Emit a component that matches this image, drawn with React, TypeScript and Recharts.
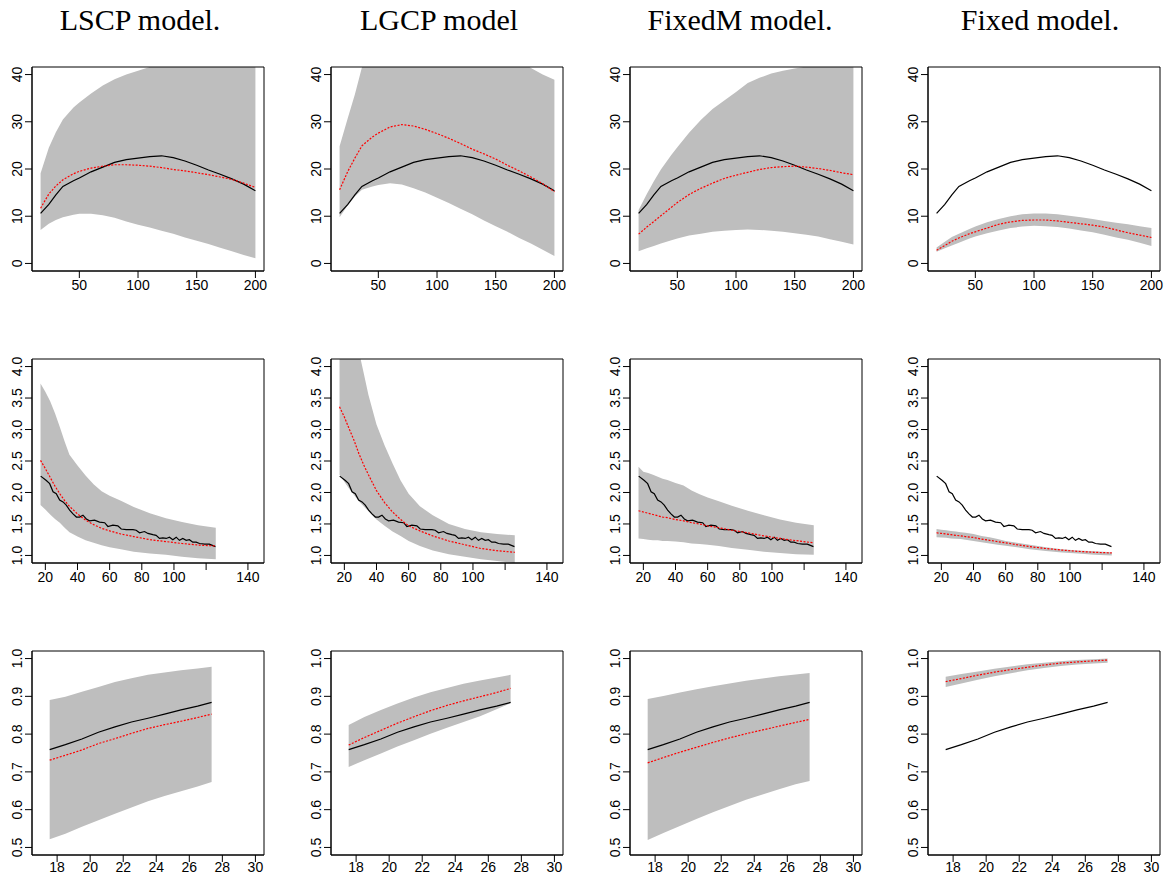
import React from "react";
import {
  ComposedChart,
  Area,
  Line,
  XAxis,
  YAxis,
  ReferenceArea,
} from "recharts";

// ---- column titles ----
const TITLES = ["LSCP model.", "LGCP model", "FixedM model.", "Fixed model."];

// ---- row 1 ----
const r1X = [17, 24, 30, 36, 45, 50, 60, 70, 80, 90, 100, 110, 120, 130, 140, 150, 160, 170, 180, 190, 200];
const r1Truth = [10.6, 12.5, 14.5, 16.3, 17.5, 18.1, 19.4, 20.4, 21.4, 22.0, 22.3, 22.6, 22.8, 22.4, 21.7, 20.8, 19.8, 18.9, 17.9, 16.8, 15.4];
const r1LscpHi = [19.1, 24.5, 27.8, 30.5, 33.0, 34.1, 36.0, 37.7, 39.0, 40.0, 40.8, 41.6, 42.3, 43, 43.5, 44, 44.5, 45, 45, 45, 45];
const r1LscpLo = [7.1, 8.4, 9.2, 9.8, 10.3, 10.5, 10.5, 10.2, 9.7, 8.9, 8.2, 7.6, 6.9, 6.3, 5.5, 4.8, 4.1, 3.3, 2.6, 1.8, 1.1];
const r1LscpEst = [11.7, 14.7, 16.4, 17.7, 19.0, 19.5, 20.2, 20.6, 20.9, 20.9, 20.8, 20.6, 20.3, 19.9, 19.6, 19.2, 18.8, 18.3, 17.8, 17.0, 16.1];
const r1LgcpHi = [24.8, 30.8, 35.8, 41.5, 46, 48, 50, 51, 52, 52, 52, 51, 50, 49, 48, 46.5, 45, 43, 41.4, 40.0, 38.9];
const r1LgcpLo = [9.8, 12.3, 14.2, 15.6, 16.3, 16.6, 17.0, 16.7, 15.9, 15.0, 13.9, 12.8, 11.6, 10.4, 9.1, 7.9, 6.7, 5.4, 4.2, 2.9, 1.6];
const r1LgcpEst = [15.6, 19.5, 22.3, 24.9, 26.8, 27.6, 28.9, 29.4, 29.1, 28.4, 27.5, 26.5, 25.4, 24.2, 23.2, 22.1, 20.8, 19.6, 18.3, 16.9, 15.2];
const r1FixedMHi = [11.3, 14.7, 17.4, 19.9, 23.0, 24.6, 27.7, 30.4, 32.7, 34.5, 36.3, 38.2, 39.3, 40.2, 40.8, 41.3, 41.7, 42, 42.5, 43, 43];
const r1FixedMLo = [2.6, 3.2, 3.7, 4.2, 4.9, 5.3, 5.9, 6.3, 6.7, 6.9, 7.1, 7.2, 7.1, 6.9, 6.7, 6.4, 6.1, 5.7, 5.1, 4.6, 4.0];
const r1FixedMEst = [6.2, 7.7, 8.9, 10.1, 11.9, 12.9, 14.6, 15.9, 17.0, 18.0, 18.7, 19.3, 19.9, 20.3, 20.5, 20.6, 20.4, 20.1, 19.7, 19.2, 18.8];
const r1FixedHi = [3.4, 4.6, 5.6, 6.3, 7.3, 7.8, 8.7, 9.4, 10.0, 10.4, 10.6, 10.6, 10.4, 10.1, 9.8, 9.4, 9.0, 8.6, 8.3, 7.9, 7.5];
const r1FixedLo = [2.5, 3.2, 3.8, 4.4, 5.3, 5.7, 6.4, 7.0, 7.5, 7.8, 8.0, 7.9, 7.7, 7.4, 7.0, 6.6, 6.1, 5.5, 5.0, 4.4, 3.7];
const r1FixedEst = [2.8, 3.8, 4.7, 5.4, 6.3, 6.7, 7.5, 8.3, 8.8, 9.1, 9.2, 9.2, 9.0, 8.7, 8.4, 8.1, 7.7, 7.1, 6.5, 6.0, 5.5];

// ---- row 2 ----
const r2X = [17, 20, 23, 26, 29, 32, 35, 40, 45, 50, 55, 60, 67, 75, 85, 95, 105, 115, 126];
const r2TruthX = [17.1, 20.6, 22.7, 24.8, 26.8, 28.9, 31, 33, 35.1, 37.2, 39.3, 41.3, 43.4, 45.5, 47.5, 50.6, 53.7, 56.9, 58.9, 62, 65.1, 67.2, 70.3, 74.5, 76.5, 78.6, 81.7, 83.8, 86.9, 88.9, 91, 93.1, 95.2, 97.2, 99.3, 101.4, 103.4, 105.5, 107.6, 109.6, 111.7, 113.8, 115.9, 119, 122, 125.8];
const r2Truth = [2.26, 2.19, 2.14, 2.01, 1.98, 1.88, 1.85, 1.80, 1.72, 1.66, 1.61, 1.61, 1.64, 1.58, 1.55, 1.56, 1.53, 1.52, 1.46, 1.48, 1.47, 1.42, 1.41, 1.41, 1.40, 1.36, 1.38, 1.35, 1.33, 1.32, 1.27, 1.28, 1.27, 1.29, 1.25, 1.29, 1.24, 1.27, 1.24, 1.25, 1.21, 1.21, 1.19, 1.18, 1.18, 1.14];
const r2LscpHi = [3.73, 3.60, 3.45, 3.26, 3.04, 2.81, 2.60, 2.43, 2.27, 2.13, 2.02, 1.95, 1.87, 1.77, 1.67, 1.59, 1.53, 1.48, 1.44];
const r2LscpLo = [1.80, 1.73, 1.65, 1.58, 1.52, 1.44, 1.37, 1.30, 1.24, 1.20, 1.16, 1.13, 1.10, 1.06, 1.03, 1.01, 0.98, 0.955, 0.94];
const r2LscpEst = [2.51, 2.38, 2.24, 2.10, 1.98, 1.87, 1.78, 1.66, 1.56, 1.49, 1.43, 1.39, 1.34, 1.30, 1.25, 1.22, 1.19, 1.165, 1.15];
const r2LgcpHi = [5.5, 5.1, 4.75, 4.45, 4.25, 3.90, 3.55, 3.08, 2.75, 2.46, 2.19, 1.98, 1.78, 1.64, 1.50, 1.42, 1.37, 1.34, 1.32];
const r2LgcpLo = [2.28, 2.17, 2.06, 1.96, 1.86, 1.78, 1.70, 1.57, 1.47, 1.38, 1.31, 1.23, 1.15, 1.08, 1.02, 0.98, 0.94, 0.91, 0.88];
const r2LgcpEst = [3.36, 3.20, 3.01, 2.83, 2.62, 2.44, 2.28, 2.03, 1.84, 1.69, 1.57, 1.47, 1.39, 1.31, 1.23, 1.17, 1.11, 1.075, 1.05];
const r2FixedMHi = [2.41, 2.33, 2.31, 2.28, 2.25, 2.22, 2.20, 2.15, 2.11, 2.03, 1.97, 1.92, 1.86, 1.79, 1.71, 1.64, 1.57, 1.52, 1.48];
const r2FixedMLo = [1.27, 1.26, 1.25, 1.24, 1.24, 1.23, 1.23, 1.22, 1.21, 1.19, 1.18, 1.17, 1.15, 1.12, 1.09, 1.06, 1.04, 1.02, 1.01];
const r2FixedMEst = [1.71, 1.69, 1.67, 1.65, 1.63, 1.61, 1.60, 1.57, 1.55, 1.52, 1.50, 1.47, 1.44, 1.40, 1.36, 1.31, 1.27, 1.235, 1.20];
const r2FixedHi = [1.42, 1.41, 1.40, 1.39, 1.38, 1.37, 1.36, 1.34, 1.31, 1.29, 1.26, 1.23, 1.20, 1.17, 1.13, 1.10, 1.08, 1.065, 1.05];
const r2FixedLo = [1.29, 1.285, 1.28, 1.27, 1.265, 1.26, 1.25, 1.23, 1.21, 1.19, 1.17, 1.155, 1.13, 1.10, 1.07, 1.045, 1.03, 1.01, 1.0];
const r2FixedEst = [1.36, 1.35, 1.34, 1.33, 1.32, 1.31, 1.30, 1.285, 1.26, 1.24, 1.22, 1.20, 1.17, 1.14, 1.11, 1.085, 1.065, 1.05, 1.04];

// ---- row 3 ----
const r3X = [17.55, 18.5, 19.5, 20.5, 21.5, 22.5, 23.5, 24.5, 25.5, 26.5, 27.35];
const r3Truth = [0.759, 0.772, 0.787, 0.805, 0.819, 0.832, 0.842, 0.853, 0.864, 0.874, 0.884];
const r3LscpHi = [0.890, 0.899, 0.912, 0.925, 0.938, 0.948, 0.957, 0.963, 0.969, 0.974, 0.978];
const r3LscpLo = [0.522, 0.536, 0.555, 0.572, 0.589, 0.606, 0.622, 0.636, 0.649, 0.661, 0.673];
const r3LscpEst = [0.731, 0.744, 0.758, 0.775, 0.788, 0.802, 0.815, 0.825, 0.834, 0.844, 0.853];
const r3LgcpHi = [0.824, 0.845, 0.864, 0.881, 0.897, 0.911, 0.922, 0.933, 0.942, 0.950, 0.957];
const r3LgcpLo = [0.713, 0.731, 0.749, 0.767, 0.784, 0.801, 0.817, 0.832, 0.847, 0.866, 0.882];
const r3LgcpEst = [0.771, 0.791, 0.810, 0.829, 0.846, 0.862, 0.876, 0.888, 0.899, 0.910, 0.921];
const r3FixedMHi = [0.893, 0.901, 0.910, 0.919, 0.927, 0.934, 0.941, 0.947, 0.953, 0.958, 0.962];
const r3FixedMLo = [0.520, 0.538, 0.557, 0.575, 0.593, 0.610, 0.626, 0.640, 0.654, 0.667, 0.676];
const r3FixedMEst = [0.724, 0.738, 0.752, 0.765, 0.778, 0.790, 0.801, 0.811, 0.821, 0.831, 0.839];
const r3FixedHi = [0.952, 0.959, 0.966, 0.973, 0.979, 0.985, 0.989, 0.993, 0.996, 0.998, 1.0];
const r3FixedLo = [0.925, 0.934, 0.944, 0.953, 0.961, 0.969, 0.975, 0.980, 0.984, 0.987, 0.989];
const r3FixedEst = [0.939, 0.947, 0.956, 0.964, 0.971, 0.977, 0.983, 0.988, 0.991, 0.994, 0.996];

// ---- axes ----
const r1XTicks = [50, 100, 150, 200];
const r1XLabels = ["50", "100", "150", "200"];
const r1YTicks = [0, 10, 20, 30, 40];
const r2XTicks = [20, 40, 60, 80, 100, 120, 146];
const r2XLabels = ["20", "40", "60", "80", "100", "", "140"];
const r2YTicks = [1.0, 1.5, 2.0, 2.5, 3.0, 3.5, 4.0];
const r3XTicks = [18, 20, 22, 24, 26, 28, 30];
const r3XLabels = ["18", "20", "22", "24", "26", "28", "30"];
const r3YTicks = [0.5, 0.6, 0.7, 0.8, 0.9, 1.0];

const SANS = '"Liberation Sans", Arial, Helvetica, sans-serif';
const SERIF = '"Liberation Serif", "DejaVu Serif", serif';

const PLOT_W = 232;
const PLOT_H = 204;
const Y_W = 32;
const PAD = 4;
const X_H = 22;

const COL_LEFT = [32, 331, 630, 928];
const ROW_TOP = [67, 359, 651];
const TITLE_CENTER = [140, 439, 740, 1040];

const zip = (xs: number[], ys: number[]) => xs.map((x, i) => ({ x, y: ys[i] }));
const band = (xs: number[], lo: number[], hi: number[]) =>
  xs.map((x, i) => ({ x, band: [lo[i], hi[i]] }));

interface RowCfg {
  xDomain: [number, number];
  yDomain: [number, number];
  xTicks: number[];
  xLabels: string[];
  yTicks: number[];
  yFmt: (v: number) => string;
  labelGap: number;
}

const ROWS: RowCfg[] = [
  { xDomain: [9.68, 207.32], yDomain: [-1.6, 41.6], xTicks: r1XTicks, xLabels: r1XLabels, yTicks: r1YTicks, yFmt: (v) => String(v), labelGap: 2 },
  { xDomain: [11.7, 156], yDomain: [0.88, 4.12], xTicks: r2XTicks, xLabels: r2XLabels, yTicks: r2YTicks, yFmt: (v) => v.toFixed(1), labelGap: 2 },
  { xDomain: [16.48, 30.52], yDomain: [0.48, 1.02], xTicks: r3XTicks, xLabels: r3XLabels, yTicks: r3YTicks, yFmt: (v) => v.toFixed(1), labelGap: 0 },
];

interface PanelData {
  band: { x: number; band: number[] }[];
  est: { x: number; y: number }[];
  truth: { x: number; y: number }[];
}

const r1TruthData = zip(r1X, r1Truth);
const r2TruthData = zip(r2TruthX, r2Truth);
const r3TruthData = zip(r3X, r3Truth);

const PANELS: PanelData[][] = [
  [
    { band: band(r1X, r1LscpLo, r1LscpHi), est: zip(r1X, r1LscpEst), truth: r1TruthData },
    { band: band(r1X, r1LgcpLo, r1LgcpHi), est: zip(r1X, r1LgcpEst), truth: r1TruthData },
    { band: band(r1X, r1FixedMLo, r1FixedMHi), est: zip(r1X, r1FixedMEst), truth: r1TruthData },
    { band: band(r1X, r1FixedLo, r1FixedHi), est: zip(r1X, r1FixedEst), truth: r1TruthData },
  ],
  [
    { band: band(r2X, r2LscpLo, r2LscpHi), est: zip(r2X, r2LscpEst), truth: r2TruthData },
    { band: band(r2X, r2LgcpLo, r2LgcpHi), est: zip(r2X, r2LgcpEst), truth: r2TruthData },
    { band: band(r2X, r2FixedMLo, r2FixedMHi), est: zip(r2X, r2FixedMEst), truth: r2TruthData },
    { band: band(r2X, r2FixedLo, r2FixedHi), est: zip(r2X, r2FixedEst), truth: r2TruthData },
  ],
  [
    { band: band(r3X, r3LscpLo, r3LscpHi), est: zip(r3X, r3LscpEst), truth: r3TruthData },
    { band: band(r3X, r3LgcpLo, r3LgcpHi), est: zip(r3X, r3LgcpEst), truth: r3TruthData },
    { band: band(r3X, r3FixedMLo, r3FixedMHi), est: zip(r3X, r3FixedMEst), truth: r3TruthData },
    { band: band(r3X, r3FixedLo, r3FixedHi), est: zip(r3X, r3FixedEst), truth: r3TruthData },
  ],
];

// rotated y tick label, like R's default las=0
const YTick = (props: any) => {
  const { x, y, payload, fmt } = props;
  return (
    <text
      x={x}
      y={y}
      transform={`rotate(-90 ${x} ${y})`}
      textAnchor="middle"
      fontSize={14}
      fontFamily={SANS}
      fill="#000"
    >
      {fmt(payload.value)}
    </text>
  );
};

function Panel({ row, col }: { row: number; col: number }) {
  const cfg = ROWS[row];
  const d = PANELS[row][col];
  const labelOf = (v: number) => {
    const i = cfg.xTicks.indexOf(v);
    return i >= 0 ? cfg.xLabels[i] : "";
  };
  return (
    <div
      style={{
        position: "absolute",
        left: COL_LEFT[col] - Y_W,
        top: ROW_TOP[row] - PAD,
      }}
    >
      <ComposedChart
        width={Y_W + PLOT_W + PAD}
        height={PAD + PLOT_H + X_H}
        margin={{ top: PAD, right: PAD, left: 0, bottom: 0 }}
      >
        <XAxis
          type="number"
          dataKey="x"
          domain={cfg.xDomain}
          allowDataOverflow
          ticks={cfg.xTicks}
          interval={0}
          tickFormatter={labelOf}
          height={X_H}
          tickSize={7}
          tickMargin={cfg.labelGap}
          axisLine={{ stroke: "#000" }}
          tickLine={{ stroke: "#000" }}
          tick={{ fill: "#000", fontSize: 14, fontFamily: SANS }}
        />
        <YAxis
          type="number"
          domain={cfg.yDomain}
          allowDataOverflow
          ticks={cfg.yTicks}
          interval={0}
          width={Y_W}
          tickSize={7}
          tickMargin={3}
          axisLine={{ stroke: "#000" }}
          tickLine={{ stroke: "#000" }}
          tick={<YTick fmt={cfg.yFmt} />}
        />
        <Area
          data={d.band}
          dataKey="band"
          type="linear"
          fill="#BEBEBE"
          fillOpacity={1}
          stroke="none"
          isAnimationActive={false}
        />
        <Line
          data={d.truth}
          dataKey="y"
          type="linear"
          stroke="#000"
          strokeWidth={1.2}
          dot={false}
          isAnimationActive={false}
        />
        <Line
          data={d.est}
          dataKey="y"
          type="linear"
          stroke="#FF0000"
          strokeWidth={1.2}
          strokeDasharray="2 1.5"
          dot={false}
          isAnimationActive={false}
        />
        <ReferenceArea
          x1={cfg.xDomain[0]}
          x2={cfg.xDomain[1]}
          y1={cfg.yDomain[0]}
          y2={cfg.yDomain[1]}
          fill="none"
          stroke="#000"
          strokeWidth={1}
          ifOverflow="visible"
        />
      </ComposedChart>
    </div>
  );
}

export default function App() {
  return (
    <div
      style={{
        position: "absolute",
        left: 0,
        top: 0,
        width: 1169,
        height: 875,
        background: "#fff",
        overflow: "hidden",
      }}
    >
      {TITLES.map((t, i) => (
        <div
          key={t}
          style={{
            position: "absolute",
            left: TITLE_CENTER[i] - 150,
            width: 300,
            top: 5,
            textAlign: "center",
            fontFamily: SERIF,
            fontSize: 30,
            lineHeight: "30px",
            color: "#000",
          }}
        >
          {t}
        </div>
      ))}
      {ROWS.map((_, r) =>
        TITLES.map((__, c) => <Panel key={`${r}-${c}`} row={r} col={c} />)
      )}
    </div>
  );
}
